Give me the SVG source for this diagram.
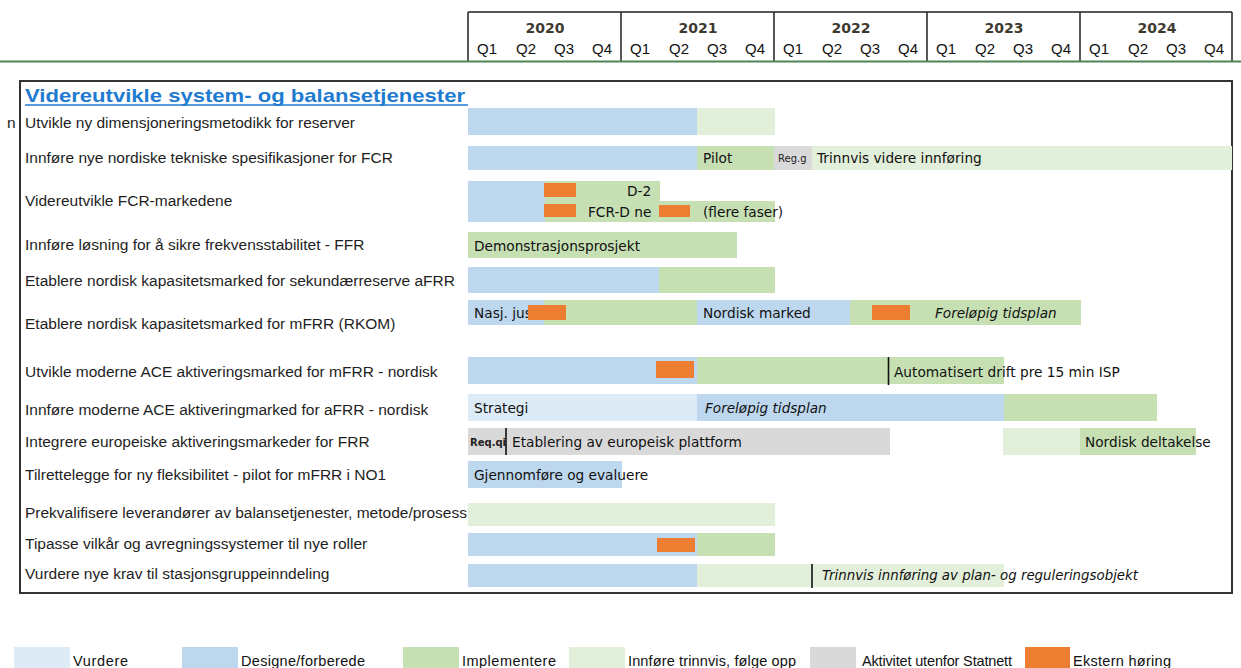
<svg xmlns="http://www.w3.org/2000/svg" width="1241" height="668" viewBox="0 0 1241 668">
<style>
.lbl{font-family:"Liberation Sans",Arial,sans-serif;font-size:15.5px;fill:#1e1e1e}
.bt{font-family:"DejaVu Sans",Verdana,sans-serif;font-size:13.7px;fill:#111}
.it{font-family:"DejaVu Sans",Verdana,sans-serif;font-size:13.6px;font-style:italic;fill:#111}
.sm{font-family:"DejaVu Sans",Verdana,sans-serif;font-size:10px;fill:#222}
.q{font-family:"Liberation Sans",Arial,sans-serif;font-size:15px;fill:#111;text-anchor:middle}
.yr{font-family:"DejaVu Sans",Verdana,sans-serif;font-size:14px;font-weight:bold;fill:#3f3a30;text-anchor:middle}
.leg{font-family:"Liberation Sans",Arial,sans-serif;font-size:14.5px;fill:#111}
.v{fill:#ddebf7}.d{fill:#bdd7ee}.i{fill:#c6e0b4}.f{fill:#e2efda}.g{fill:#d9d9d9}.o{fill:#ed7d31}
.vl{stroke:#111;stroke-width:1.6}
</style>
<rect width="1241" height="668" fill="#fff"/>
<g id="header">
<path d="M468 12H1232M468 12V61M621 12V61M774 12V61M927 12V61M1080 12V61M1232 12V61" stroke="#222" stroke-width="1.5" fill="none"/>
<line x1="0" y1="61.5" x2="1241" y2="61.5" stroke="#4f8458" stroke-width="2"/>
<text class="yr" x="545" y="33">2020</text><text class="yr" x="698" y="33">2021</text><text class="yr" x="851" y="33">2022</text><text class="yr" x="1004" y="33">2023</text><text class="yr" x="1157" y="33">2024</text>
<text class="q" y="54"><tspan x="487">Q1</tspan><tspan x="526">Q2</tspan><tspan x="564">Q3</tspan><tspan x="602">Q4</tspan><tspan x="640">Q1</tspan><tspan x="679">Q2</tspan><tspan x="717">Q3</tspan><tspan x="755">Q4</tspan><tspan x="793">Q1</tspan><tspan x="832">Q2</tspan><tspan x="870">Q3</tspan><tspan x="908">Q4</tspan><tspan x="946">Q1</tspan><tspan x="985">Q2</tspan><tspan x="1023">Q3</tspan><tspan x="1061">Q4</tspan><tspan x="1099">Q1</tspan><tspan x="1138">Q2</tspan><tspan x="1176">Q3</tspan><tspan x="1214">Q4</tspan></text>
</g>
<g id="frame">
<rect x="20" y="81" width="1212" height="512" fill="none" stroke="#333" stroke-width="2"/>
<text x="25" y="102" font-family="Liberation Sans,Arial,sans-serif" font-size="19" font-weight="bold" fill="#1f7bd0" textLength="440" lengthAdjust="spacingAndGlyphs">Videreutvikle system- og balansetjenester</text>
<line x1="25" y1="105" x2="468" y2="105" stroke="#1f7bd0" stroke-width="1.5"/>
<text class="lbl" x="7" y="128">n</text>
</g>
<g id="row1"><text class="lbl" x="25" y="128">Utvikle ny dimensjoneringsmetodikk for reserver</text>
<rect class="d" x="468" y="108" width="229" height="27"/><rect class="f" x="697" y="108" width="78" height="27"/></g>
<g id="row2"><text class="lbl" x="25" y="163">Innføre nye nordiske tekniske spesifikasjoner for FCR</text>
<rect class="d" x="468" y="146" width="229" height="24"/><rect class="i" x="697" y="146" width="77" height="24"/><rect class="g" x="774" y="146" width="38" height="24"/>
<text class="bt" x="703" y="163">Pilot</text><text class="sm" x="778" y="162">Reg.g</text>
<rect class="f" x="812" y="146" width="420" height="24"/><text class="bt" x="817" y="163">Trinnvis videre innføring</text></g>
<g id="row3"><text class="lbl" x="25" y="206">Videreutvikle FCR-markedene</text>
<rect class="d" x="468" y="181" width="77" height="41"/><rect class="i" x="545" y="181" width="115" height="20"/><rect class="i" x="545" y="201" width="230" height="21"/>
<text class="bt" x="627" y="196">D-2</text><text class="bt" x="588" y="217">FCR-D ne</text><text class="bt" x="703" y="217">(flere faser)</text>
<rect class="o" x="544" y="183" width="32" height="14"/><rect class="o" x="544" y="204" width="32" height="13"/><rect class="o" x="659" y="205" width="31" height="12"/></g>
<g id="row4"><text class="lbl" x="25" y="250">Innføre løsning for å sikre frekvensstabilitet - FFR</text>
<rect class="i" x="468" y="232" width="269" height="26"/><text class="bt" x="474" y="251">Demonstrasjonsprosjekt</text></g>
<g id="row5"><text class="lbl" x="25" y="286">Etablere nordisk kapasitetsmarked for sekundærreserve aFRR</text>
<rect class="d" x="468" y="267" width="191" height="26"/><rect class="i" x="659" y="267" width="116" height="26"/></g>
<g id="row6"><text class="lbl" x="25" y="329">Etablere nordisk kapasitetsmarked for mFRR (RKOM)</text>
<rect class="d" x="468" y="300" width="76" height="25"/><rect class="i" x="544" y="300" width="153" height="25"/><rect class="d" x="697" y="300" width="153" height="25"/><rect class="i" x="850" y="300" width="231" height="25"/>
<text class="bt" x="474" y="318">Nasj. jus</text><rect class="o" x="528" y="305" width="38" height="15"/>
<text class="bt" x="703" y="318">Nordisk marked</text><rect class="o" x="872" y="305" width="38" height="15"/>
<text class="it" x="935" y="318">Foreløpig tidsplan</text></g>
<g id="row7"><text class="lbl" x="25" y="377">Utvikle moderne ACE aktiveringsmarked for mFRR - nordisk</text>
<rect class="d" x="468" y="357" width="229" height="27"/><rect class="i" x="697" y="357" width="307" height="27"/><rect class="o" x="656" y="361" width="38" height="17"/>
<text class="bt" x="894" y="377">Automatisert drift pre 15 min ISP</text></g>
<g id="row8"><text class="lbl" x="25" y="415">Innføre moderne ACE aktiveringmarked for aFRR - nordisk</text>
<rect class="v" x="468" y="394" width="229" height="27"/><rect class="d" x="697" y="394" width="307" height="27"/><rect class="i" x="1004" y="394" width="153" height="27"/>
<text class="bt" x="474" y="413">Strategi</text><text class="it" x="705" y="413">Foreløpig tidsplan</text></g>
<g id="row9"><text class="lbl" x="25" y="447">Integrere europeiske aktiveringsmarkeder for FRR</text>
<rect class="g" x="468" y="428" width="422" height="27"/><rect class="f" x="1003" y="428" width="77" height="27"/><rect class="i" x="1080" y="428" width="116" height="27"/>
<text class="sm" x="470" y="446" font-weight="bold" font-size="9">Req.qi</text>
<text class="bt" x="512" y="447">Etablering av europeisk plattform</text><text class="bt" x="1085" y="447">Nordisk deltakelse</text></g>
<g id="row10"><text class="lbl" x="25" y="480">Tilrettelegge for ny fleksibilitet - pilot for mFRR i NO1</text>
<rect class="d" x="468" y="461" width="154" height="27"/><text class="bt" x="474" y="480">Gjennomføre og evaluere</text></g>
<g id="row11"><text class="lbl" x="25" y="518">Prekvalifisere leverandører av balansetjenester, metode/prosess</text>
<rect class="f" x="468" y="503" width="307" height="23"/></g>
<g id="row12"><text class="lbl" x="25" y="549">Tipasse vilkår og avregningssystemer til nye roller</text>
<rect class="d" x="468" y="533" width="229" height="23"/><rect class="i" x="697" y="533" width="78" height="23"/><rect class="o" x="657" y="538" width="38" height="14"/></g>
<g id="row13"><text class="lbl" x="25" y="579">Vurdere nye krav til stasjonsgruppeinndeling</text>
<rect class="d" x="468" y="564" width="229" height="23"/><rect class="f" x="697" y="564" width="307" height="23"/>
<text class="it" x="822" y="580" textLength="316" lengthAdjust="spacingAndGlyphs">Trinnvis innføring av plan- og reguleringsobjekt</text></g>
<g id="connectors">
<line class="vl" x1="888.5" y1="357" x2="888.5" y2="385"/>
<line class="vl" x1="506" y1="428" x2="506" y2="455"/>
<line class="vl" x1="812" y1="564" x2="812" y2="588"/>
</g>
<g id="legend">
<rect class="v" x="14" y="647" width="56" height="21"/><text class="leg" x="73" y="666" textLength="55">Vurdere</text>
<rect class="d" x="182" y="647" width="56" height="21"/><text class="leg" x="241" y="666" textLength="124">Designe/forberede</text>
<rect class="i" x="403" y="647" width="56" height="21"/><text class="leg" x="462" y="666" textLength="94">Implementere</text>
<rect class="f" x="569" y="647" width="56" height="21"/><text class="leg" x="628" y="666" textLength="168">Innføre trinnvis, følge opp</text>
<rect class="g" x="810" y="647" width="46" height="21"/><text class="leg" x="862" y="666" textLength="150">Aktivitet utenfor Statnett</text>
<rect class="o" x="1025" y="647" width="45" height="21"/><text class="leg" x="1073" y="666" textLength="98">Ekstern høring</text>
</g>
</svg>
